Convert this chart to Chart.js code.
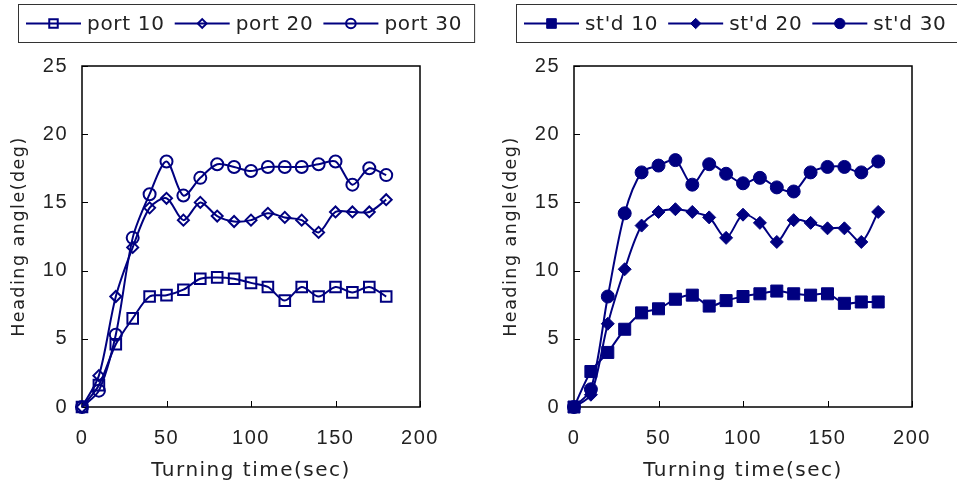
<!DOCTYPE html>
<html>
<head>
<meta charset="utf-8">
<script src="https://cdn.jsdelivr.net/npm/chart.js@4.4.1/dist/chart.umd.min.js"></script>
<style>
  body { margin: 0; background: #fff; }
  #wrap { position: relative; width: 957px; height: 487px; }
  canvas { position: absolute; top: 0; }
  #port-chart { left: 0; }
  #std-chart { left: 478px; }
</style>
</head>
<body>
<div id="wrap">
  <canvas id="port-chart" width="478" height="487"></canvas>
  <canvas id="std-chart" width="479" height="487"></canvas>
</div>
<script>
// Data
const times = [0, 10, 20, 30, 40, 50, 60, 70, 80, 90, 100, 110, 120, 130, 140, 150, 160, 170, 180];

const port10 = [0, 1.6, 4.6, 6.5, 8.1, 8.2, 8.6, 9.4, 9.5, 9.4, 9.1, 8.8, 7.8, 8.8, 8.1, 8.8, 8.4, 8.8, 8.1];
const port20 = [0, 2.3, 8.1, 11.7, 14.6, 15.3, 13.7, 15.0, 14.0, 13.6, 13.7, 14.2, 13.9, 13.7, 12.8, 14.3, 14.3, 14.3, 15.2];
const port30 = [0, 1.2, 5.3, 12.4, 15.6, 18.0, 15.5, 16.8, 17.8, 17.6, 17.3, 17.6, 17.6, 17.6, 17.8, 18.0, 16.3, 17.5, 17.0];

const std10 = [0, 2.6, 4.0, 5.7, 6.9, 7.2, 7.9, 8.2, 7.4, 7.8, 8.1, 8.3, 8.5, 8.3, 8.2, 8.3, 7.6, 7.7, 7.7];
const std20 = [0, 0.9, 6.1, 10.1, 13.3, 14.3, 14.5, 14.3, 13.9, 12.4, 14.1, 13.5, 12.1, 13.7, 13.5, 13.1, 13.1, 12.1, 14.3];
const std30 = [0, 1.3, 8.1, 14.2, 17.2, 17.7, 18.1, 16.3, 17.8, 17.1, 16.4, 16.8, 16.1, 15.8, 17.2, 17.6, 17.6, 17.2, 18.0];

const xTicks = [0, 50, 100, 150, 200];
const yTicks = [0, 5, 10, 15, 20, 25];

const NAVY = "#000080";
const TEXT = "#222";

// Helpers
function toPoints(values) {
  return values.map((v, i) => ({ x: times[i], y: v }));
}

function makeDataset(label, values, pointStyle, radius, filled) {
  return {
    label: label,
    data: toPoints(values),
    borderColor: NAVY,
    borderWidth: 2,
    tension: 0.3,
    clip: false,
    pointStyle: pointStyle,
    pointRadius: radius,
    pointBorderWidth: filled ? 1 : 2,
    pointBorderColor: NAVY,
    pointBackgroundColor: filled ? NAVY : "rgba(0,0,0,0)",
  };
}

// The original text is a bit spaced out
const spacingPlugin = {
  id: "spacing",
  beforeDraw(chart) {
    chart.ctx.letterSpacing = "1.5px";
  },
};

// Plot frame with inward tick marks
const framePlugin = {
  id: "frame",
  beforeDatasetsDraw(chart) {
    const { ctx, chartArea: a, scales } = chart;
    ctx.save();
    ctx.strokeStyle = "#000";
    ctx.lineWidth = 1.5;
    ctx.strokeRect(a.left, a.top, a.right - a.left, a.bottom - a.top);
    ctx.lineWidth = 1;
    ctx.beginPath();
    for (const t of xTicks) {
      const px = Math.round(scales.x.getPixelForValue(t)) + 0.5;
      ctx.moveTo(px, a.bottom);
      ctx.lineTo(px, a.bottom - 6);
    }
    for (const t of yTicks) {
      const py = Math.round(scales.y.getPixelForValue(t)) + 0.5;
      ctx.moveTo(a.left, py);
      ctx.lineTo(a.left + 6, py);
    }
    ctx.stroke();
    ctx.restore();
  },
};

// Boxed legend with line + marker samples
const boxLegendPlugin = {
  id: "boxLegend",
  afterDraw(chart, args, opts) {
    const { ctx } = chart;
    const top = 4;
    const height = 38;
    const midY = top + height / 2 + 0.5;
    ctx.save();
    ctx.font = "20px 'DejaVu Sans'";
    ctx.letterSpacing = "0.7px";
    ctx.textBaseline = "middle";
    let x = opts.x + 8;
    for (const ds of chart.data.datasets) {
      ctx.strokeStyle = NAVY;
      ctx.lineWidth = 2;
      ctx.beginPath();
      ctx.moveTo(x, midY);
      ctx.lineTo(x + 55, midY);
      ctx.stroke();
      ctx.fillStyle = ds.pointBackgroundColor;
      ctx.strokeStyle = NAVY;
      ctx.lineWidth = ds.pointBorderWidth;
      Chart.helpers.drawPoint(
        ctx,
        { pointStyle: ds.pointStyle, radius: ds.pointRadius * 0.8, rotation: 0, borderWidth: ds.pointBorderWidth },
        x + 27.5,
        midY,
      );
      x += 61;
      ctx.fillStyle = TEXT;
      ctx.fillText(ds.label, x, midY + 1);
      x += ctx.measureText(ds.label).width + 10;
    }
    ctx.strokeStyle = "#333";
    ctx.lineWidth = 1;
    ctx.strokeRect(opts.x + 0.5, top + 0.5, x - opts.x + 2, height);
    ctx.restore();
  },
};

function makeConfig(datasets, padLeft, padRight, legendX) {
  return {
    type: "line",
    data: { datasets: datasets },
    plugins: [spacingPlugin, framePlugin, boxLegendPlugin],
    options: {
      responsive: false,
      animation: false,
      devicePixelRatio: 1,
      layout: { padding: { left: padLeft, right: padRight, top: 66, bottom: 0 } },
      plugins: {
        legend: { display: false },
        tooltip: { enabled: false },
        boxLegend: { x: legendX },
      },
      scales: {
        x: {
          type: "linear",
          min: 0,
          max: 200,
          afterBuildTicks(scale) {
            scale.ticks = xTicks.map((v) => ({ value: v }));
          },
          afterFit(scale) {
            scale.height = 80;
          },
          grid: { display: false, drawTicks: false },
          border: { display: false },
          ticks: {
            padding: 19,
            color: TEXT,
            font: { family: "'Liberation Sans'", size: 20 },
          },
          title: {
            display: true,
            text: "Turning time(sec)",
            color: TEXT,
            font: { family: "'DejaVu Sans'", size: 20 },
            padding: { top: 0, bottom: 4 },
          },
        },
        y: {
          min: 0,
          max: 25,
          afterBuildTicks(scale) {
            scale.ticks = yTicks.map((v) => ({ value: v }));
          },
          afterFit(scale) {
            scale.width = 82;
          },
          grid: { display: false, drawTicks: false },
          border: { display: false },
          ticks: {
            padding: 14,
            color: TEXT,
            font: { family: "'Liberation Sans'", size: 20 },
          },
          title: {
            display: true,
            text: "Heading angle(deg)",
            color: TEXT,
            font: { family: "'DejaVu Sans'", size: 17.5 },
            padding: { top: 9, bottom: 0 },
          },
        },
      },
    },
  };
}

const portDatasets = [
  makeDataset("port 10", port10, "rect", 7.5, false),
  makeDataset("port 20", port20, "rectRot", 5.5, false),
  makeDataset("port 30", port30, "circle", 6, false),
];

const stdDatasets = [
  makeDataset("st'd 10", std10, "rect", 8.5, true),
  makeDataset("st'd 20", std20, "rectRot", 6.5, true),
  makeDataset("st'd 30", std30, "circle", 6.5, true),
];

new Chart(document.getElementById("port-chart"), makeConfig(portDatasets, 0, 58, 18));
new Chart(document.getElementById("std-chart"), makeConfig(stdDatasets, 14, 45, 38));
</script>
</body>
</html>
